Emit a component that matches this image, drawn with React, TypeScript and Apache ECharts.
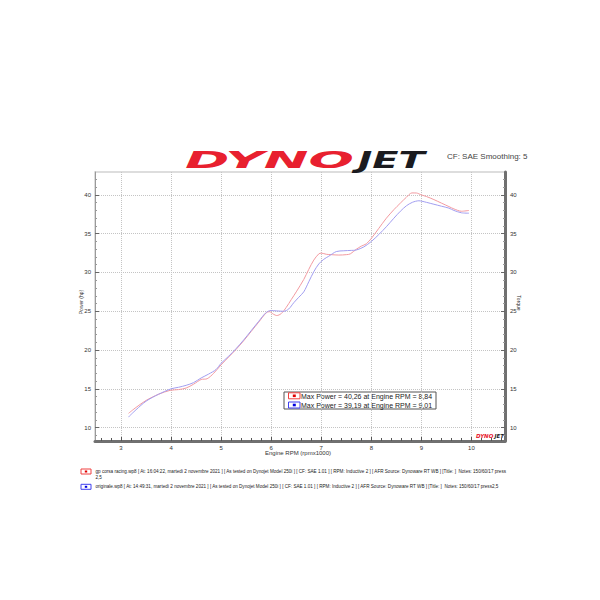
import React, { useEffect, useRef } from "react";
import * as echarts from "echarts";

// ---- Data ----
const redRpm = [3.15, 3.3, 3.5, 3.75, 3.98, 4.15, 4.3, 4.45, 4.6, 4.72, 4.85, 5.0, 5.15, 5.3, 5.45, 5.6, 5.75, 5.9, 5.96, 6.05, 6.11, 6.2, 6.3, 6.4, 6.5, 6.65, 6.75, 6.85, 6.95, 7.0, 7.1, 7.2, 7.35, 7.5, 7.58, 7.7, 7.8, 7.9, 8.0, 8.15, 8.3, 8.45, 8.58, 8.7, 8.81, 8.9, 9.0, 9.1, 9.25, 9.4, 9.55, 9.65, 9.8, 9.95];
const redPower = [11.84, 12.6, 13.5, 14.3, 14.8, 14.9, 15.1, 15.6, 16.2, 16.3, 17.0, 18.1, 19.1, 20.1, 21.2, 22.4, 23.6, 24.8, 24.95, 24.6, 24.45, 24.7, 25.5, 26.5, 27.5, 29.1, 30.4, 31.6, 32.4, 32.5, 32.35, 32.3, 32.25, 32.3, 32.4, 33.0, 33.4, 33.7, 34.4, 35.7, 37.0, 38.1, 38.95, 39.7, 40.26, 40.25, 40.0, 39.8, 39.4, 38.95, 38.5, 38.2, 37.9, 38.0];
const blueRpm = [3.15, 3.3, 3.5, 3.75, 4.0, 4.15, 4.3, 4.45, 4.6, 4.75, 4.9, 5.0, 5.15, 5.3, 5.45, 5.6, 5.75, 5.9, 6.0, 6.1, 6.25, 6.35, 6.45, 6.55, 6.65, 6.75, 6.85, 6.95, 7.05, 7.15, 7.3, 7.45, 7.6, 7.7, 7.85, 8.0, 8.15, 8.3, 8.45, 8.58, 8.7, 8.82, 8.95, 9.01, 9.1, 9.25, 9.4, 9.55, 9.65, 9.8, 9.95];
const bluePower = [11.37, 12.3, 13.4, 14.3, 15.0, 15.2, 15.45, 15.8, 16.4, 16.9, 17.5, 18.3, 19.2, 20.2, 21.3, 22.5, 23.7, 24.85, 25.1, 25.05, 25.0, 25.3, 26.1, 26.8, 27.5, 28.8, 30.1, 31.1, 31.7, 32.1, 32.7, 32.8, 32.85, 32.9, 33.3, 34.0, 34.9, 35.9, 37.0, 37.9, 38.6, 39.05, 39.25, 39.19, 39.05, 38.8, 38.55, 38.3, 38.0, 37.7, 37.65];

const xTickLabels = [3, 4, 5, 6, 7, 8, 9, 10];
const yTickLabels = [10, 15, 20, 25, 30, 35, 40];
const xMinorTicks = [2.6, 2.8, 3.2, 3.4, 3.6, 3.8, 4.2, 4.4, 4.6, 4.8, 5.2, 5.4, 5.6, 5.8, 6.2, 6.4, 6.6, 6.8, 7.2, 7.4, 7.6, 7.8, 8.2, 8.4, 8.6, 8.8, 9.2, 9.4, 9.6, 9.8, 10.2, 10.4, 10.6];
const yMinorTicks = [9, 11, 12, 13, 14, 16, 17, 18, 19, 21, 22, 23, 24, 26, 27, 28, 29, 31, 32, 33, 34, 36, 37, 38, 39, 41, 42];

const legendLines = [
  "Max Power = 40,26 at Engine RPM = 8,84",
  "Max Power = 39,19 at Engine RPM = 9,01",
];
const noteLines = [
  "gp corsa racing.wp8 [ At: 16:04:22, martedì 2 novembre 2021 ] [ As tested on Dynojet Model 250i ] [ CF: SAE 1.01 ] [ RPM: Inductive 2 ] [ AFR Source: Dynoware RT WB ] [Title: ]  Notes: 150/60/17 press",
  "2,5",
  "originale.wp8 [ At: 14:49:31, martedì 2 novembre 2021 ] [ As tested on Dynojet Model 250i ] [ CF: SAE 1.01 ] [ RPM: Inductive 2 ] [ AFR Source: Dynoware RT WB ] [Title: ]  Notes: 150/60/17 press2,5",
];

const RED = "#f29aa0";
const BLUE = "#a29ef0";
const FONT = "Liberation Sans";

export default function App() {
  const ref = useRef<HTMLDivElement>(null);
  useEffect(() => {
    if (!ref.current) return;
    const chart = echarts.init(ref.current, undefined, { renderer: "svg" });
    const XMIN = 2.48, XMAX = 10.67, YMIN = 8.27, YMAX = 42.96;
    const baseX = { type: "value", min: XMIN, max: XMAX, gridIndex: 0 };
    const baseY = { type: "value", min: YMIN, max: YMAX, gridIndex: 0 };
    const gridLine = { type: "dotted", color: "#c4c4c4", width: 1 };
    const option: any = {
      animation: false,
      backgroundColor: "#ffffff",
      textStyle: { fontFamily: FONT },
      grid: { left: 95, right: 95, top: 172, bottom: 159, show: true, borderColor: "#d2d2d2", borderWidth: 1.5 },
      xAxis: [
        {
          ...baseX,
          position: "bottom",
          axisLine: { show: true, lineStyle: { color: "#707070", width: 3 } },
          axisTick: { show: true, inside: true, length: 4, customValues: xTickLabels, lineStyle: { color: "#555" } },
          axisLabel: { show: true, customValues: xTickLabels, fontSize: 6, color: "#333", margin: 4 },
          splitLine: { show: true, lineStyle: gridLine },
        },
        {
          ...baseX,
          position: "bottom",
          axisLine: { show: false },
          axisTick: { show: true, inside: true, length: 3, customValues: xMinorTicks, lineStyle: { color: "#555" } },
          axisLabel: { show: false },
          splitLine: { show: false },
        },
      ],
      yAxis: [
        {
          ...baseY,
          position: "left",
          axisLine: { show: true, lineStyle: { color: "#9a9a9a", width: 1 } },
          axisTick: { show: true, inside: true, length: 4, customValues: yTickLabels, lineStyle: { color: "#666" } },
          axisLabel: { show: true, customValues: yTickLabels, fontSize: 6, color: "#333", margin: 4 },
          splitLine: { show: true, lineStyle: gridLine },
        },
        {
          ...baseY,
          position: "left",
          axisLine: { show: false },
          axisTick: { show: true, inside: true, length: 2, customValues: yMinorTicks, lineStyle: { color: "#999" } },
          axisLabel: { show: false },
          splitLine: { show: false },
        },
        {
          ...baseY,
          position: "right",
          axisLine: { show: true, lineStyle: { color: "#707070", width: 3 } },
          axisTick: { show: true, inside: true, length: 4, customValues: yTickLabels, lineStyle: { color: "#666" } },
          axisLabel: { show: true, customValues: yTickLabels, fontSize: 6, color: "#333", margin: 5 },
          splitLine: { show: false },
        },
        {
          ...baseY,
          position: "right",
          axisLine: { show: false },
          axisTick: { show: true, inside: true, length: 2, customValues: yMinorTicks, lineStyle: { color: "#999" } },
          axisLabel: { show: false },
          splitLine: { show: false },
        },
      ],
      series: [
        {
          name: "gp corsa racing",
          type: "line",
          xAxisIndex: 0,
          yAxisIndex: 0,
          data: redRpm.map((x, i) => [x, redPower[i]]),
          showSymbol: false,
          smooth: 0.3,
          lineStyle: { color: RED, width: 1 },
          itemStyle: { color: RED },
        },
        {
          name: "originale",
          type: "line",
          xAxisIndex: 0,
          yAxisIndex: 0,
          data: blueRpm.map((x, i) => [x, bluePower[i]]),
          showSymbol: false,
          smooth: 0.3,
          lineStyle: { color: BLUE, width: 1 },
          itemStyle: { color: BLUE },
        },
      ],
      graphic: [
        // header logo
        { type: "text", x: 185, y: 160, scaleX: 1.57, scaleY: 0.67, style: { text: "DYNO", fontSize: 34, fontWeight: 900, fontStyle: "italic", fontFamily: "DejaVu Sans", fill: "#e8202f", verticalAlign: "middle", align: "left" } },
        { type: "text", x: 358, y: 160, scaleX: 1.13, scaleY: 0.67, style: { text: "JET", fontSize: 34, fontWeight: 900, fontStyle: "italic", fontFamily: "DejaVu Sans", fill: "#1b1b1f", verticalAlign: "middle", align: "left" } },
        { type: "text", x: 447, y: 156, style: { text: "CF: SAE Smoothing: 5", fontSize: 8, fontFamily: FONT, fill: "#444", verticalAlign: "middle", align: "left" } },
        // axis names
        { type: "text", x: 81, y: 302, rotation: Math.PI / 2, style: { text: "Power (hp)", fontSize: 5, fontFamily: FONT, fill: "#333", align: "center", verticalAlign: "middle" } },
        { type: "text", x: 519, y: 303, rotation: -Math.PI / 2, style: { text: "Torque", fontSize: 5, fontFamily: FONT, fill: "#333", align: "center", verticalAlign: "middle" } },
        { type: "text", x: 298, y: 453, style: { text: "Engine RPM (rpmx1000)", fontSize: 6, fontFamily: FONT, fill: "#333", align: "center", verticalAlign: "middle" } },
        // small dynojet logo in plot corner
        { type: "text", x: 476, y: 436, style: { text: "DYNO", fontSize: 5.5, fontWeight: 900, fontStyle: "italic", fontFamily: "DejaVu Sans", fill: "#e8202f", align: "left", verticalAlign: "middle" } },
        { type: "text", x: 494.5, y: 436, style: { text: "JET", fontSize: 5.5, fontWeight: 900, fontStyle: "italic", fontFamily: "DejaVu Sans", fill: "#1b1b1f", align: "left", verticalAlign: "middle" } },
        // legend box
        { type: "rect", shape: { x: 284, y: 392, width: 152, height: 17 }, style: { fill: "#fff", stroke: "#555", lineWidth: 1 } },
        { type: "rect", shape: { x: 288.5, y: 392.8, width: 11.5, height: 6 }, style: { fill: "#fff", stroke: "#f04040", lineWidth: 1 } },
        { type: "rect", shape: { x: 292.8, y: 394.5, width: 3, height: 2.6 }, style: { fill: "#e00000" } },
        { type: "rect", shape: { x: 288.5, y: 402, width: 11.5, height: 6 }, style: { fill: "#fff", stroke: "#4040f0", lineWidth: 1 } },
        { type: "rect", shape: { x: 292.8, y: 403.7, width: 3, height: 2.6 }, style: { fill: "#0000e0" } },
        { type: "text", x: 301, y: 396, style: { text: legendLines[0], fontSize: 7, fontFamily: FONT, fill: "#222", align: "left", verticalAlign: "middle" } },
        { type: "text", x: 301, y: 405.3, style: { text: legendLines[1], fontSize: 7, fontFamily: FONT, fill: "#222", align: "left", verticalAlign: "middle" } },
        // run notes
        { type: "rect", shape: { x: 81, y: 469, width: 10, height: 5 }, style: { fill: "#fff", stroke: "#f04040", lineWidth: 1 } },
        { type: "rect", shape: { x: 84.8, y: 470.5, width: 2.4, height: 2 }, style: { fill: "#e00000" } },
        { type: "rect", shape: { x: 81, y: 484.3, width: 10, height: 5 }, style: { fill: "#fff", stroke: "#4040f0", lineWidth: 1 } },
        { type: "rect", shape: { x: 84.8, y: 485.8, width: 2.4, height: 2 }, style: { fill: "#0000e0" } },
        { type: "text", x: 95.5, y: 471, style: { text: noteLines[0], fontSize: 4.6, fontFamily: FONT, fill: "#222", align: "left", verticalAlign: "middle" } },
        { type: "text", x: 95.5, y: 477, style: { text: noteLines[1], fontSize: 4.6, fontFamily: FONT, fill: "#222", align: "left", verticalAlign: "middle" } },
        { type: "text", x: 95.5, y: 486.8, style: { text: noteLines[2], fontSize: 4.6, fontFamily: FONT, fill: "#222", align: "left", verticalAlign: "middle" } },
      ],
    };
    chart.setOption(option);
    return () => chart.dispose();
  }, []);
  return (
    <div
      ref={ref}
      style={{ position: "absolute", left: 0, top: 0, width: 600, height: 600, background: "#fff" }}
    />
  );
}
